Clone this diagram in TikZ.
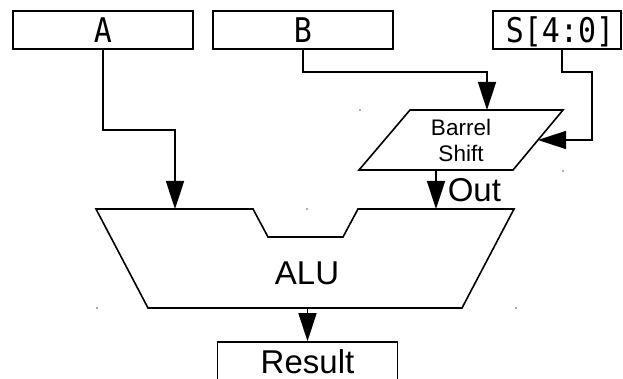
\documentclass[tikz,border=0pt]{standalone}
\usepackage{fontspec}
\setmainfont{Liberation Sans}
\newfontfamily\monofont{DejaVu Sans Mono}
\usetikzlibrary{arrows.meta}
\begin{document}
\begin{tikzpicture}[x=1pt,y=-1pt,line width=1.6pt,
  wire/.style={draw,line join=miter},
  feed/.style={wire,-{Triangle[length=28pt,width=18pt]}},
  regbox/.style={draw,minimum height=38pt,inner sep=0pt,
    text height=24.5pt,text depth=0pt,
    font=\monofont\fontsize{34}{38}\selectfont},
  biglabel/.style={font=\fontsize{33}{38}\selectfont},
  marker/.style={fill=black!65},
]
\clip (0,0) rectangle (623,379);
\fill[white] (0,0) rectangle (623,379);

% operand and shift-amount registers
\node[regbox,minimum width=180pt] (A) at (103,30) {\scalebox{0.88}[1]{A}};
\node[regbox,minimum width=180pt] (B) at (303,30) {\scalebox{0.88}[1]{B}};
\node[regbox,minimum width=128pt] (S) at (557,30) {\hspace*{6pt}\scalebox{0.88}[1]{S[4:0]}};

% barrel shifter (parallelogram)
\draw[line join=miter] (410,110) -- (563,110) -- (513,170) -- (359,170) -- cycle;
\node[align=center,font=\fontsize{22.5}{26}\selectfont] (barrel) at (461,140) {Barrel\\Shift};
\coordinate (bs-top) at (487,110);
\coordinate (bs-right) at (538,140);
\coordinate (bs-bot) at (436,170);

% ALU outline with the notch between its two inputs
\draw[line join=miter] (96,209) -- (253,209) -- (268,237) -- (343,237) -- (358,209)
  -- (514,209) -- (462,308) -- (148,308) -- cycle;
\node[biglabel] (alu) at (307,273) {ALU};
\coordinate (alu-a) at (175,209);
\coordinate (alu-b) at (436,209);
\coordinate (alu-y) at (307.5,308);

% result register
\node[regbox,minimum width=180pt,minimum height=40pt,text height=23pt,
  font=\fontsize{33}{38}\selectfont] (result) at (307.5,362) {Result};

% shape corner markers
\fill[marker] (360,110) circle (0.9pt);
\fill[marker] (563,171) circle (0.9pt);
\fill[marker] (307,209) circle (0.9pt);
\fill[marker] (97,308) circle (0.9pt);
\fill[marker] (516,308) circle (0.9pt);

% connections
\coordinate (s-turn) at (592,140);
\draw[feed] (A.south) -- ++(0,80) -| (alu-a);
\draw[feed] (B.south) -- ++(0,22) -| (bs-top);
\draw[feed] ([xshift=5pt]S.south) -- ++(0,22) -| (s-turn) -- (bs-right);
\draw[feed] (bs-bot) -- (alu-b);
\node[biglabel,anchor=base west,inner sep=0pt] (outlbl) at (447,202) {Out};
\draw[feed] (alu-y) -- (result.north);
\end{tikzpicture}
\end{document}
